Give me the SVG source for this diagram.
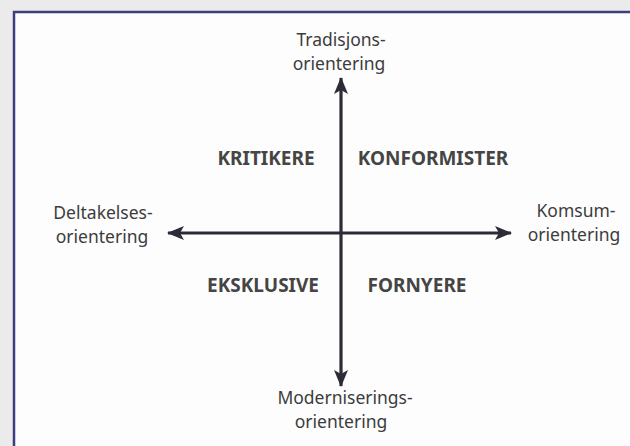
<svg xmlns="http://www.w3.org/2000/svg" width="630" height="446" viewBox="0 0 630 446">
<style>
.lbl{font-family:"Noto Sans","Open Sans","Liberation Sans",sans-serif;font-size:17.5px;fill:#3c3c3c;text-anchor:middle}
.q{font-family:"Noto Sans","Open Sans","Liberation Sans",sans-serif;font-size:19px;font-weight:bold;fill:#454545;text-anchor:middle}
.ax{stroke:#2c2c38;stroke-width:3.2;fill:none}
</style>
<defs>
<marker id="ah" markerUnits="userSpaceOnUse" markerWidth="18" markerHeight="14" refX="16" refY="7" orient="auto">
<path d="M0,0 L17,7 L0,14 L4,7 z" fill="#2c2c38"/>
</marker>
</defs>
<rect x="0" y="0" width="630" height="446" fill="#ebebeb"/>
<rect id="frame" x="14" y="12" width="700" height="500" fill="#fdfdfd" stroke="#3b3f7c" stroke-width="2.5"/>
<g id="connectors">
<line class="ax" x1="341" y1="233" x2="341" y2="78" marker-end="url(#ah)"/>
<line class="ax" x1="341" y1="233" x2="341" y2="386" marker-end="url(#ah)"/>
<line class="ax" x1="341" y1="233" x2="168" y2="233" marker-end="url(#ah)"/>
<line class="ax" x1="341" y1="233" x2="511" y2="233" marker-end="url(#ah)"/>
</g>
<g id="top"><text class="lbl" x="341" y="46">Tradisjons-</text><text class="lbl" x="339" y="70">orientering</text></g>
<g id="left"><text class="lbl" x="103" y="219">Deltakelses-</text><text class="lbl" x="102" y="243">orientering</text></g>
<g id="right"><text class="lbl" x="576" y="217">Komsum-</text><text class="lbl" x="574" y="241">orientering</text></g>
<g id="bottom"><text class="lbl" x="345" y="404">Moderniserings-</text><text class="lbl" x="341" y="428">orientering</text></g>
<g id="kritikere"><text class="q" x="266" y="165">KRITIKERE</text></g>
<g id="konformister"><text class="q" x="433" y="165">KONFORMISTER</text></g>
<g id="eksklusive"><text class="q" x="263" y="292">EKSKLUSIVE</text></g>
<g id="fornyere"><text class="q" x="417" y="292">FORNYERE</text></g>
</svg>
